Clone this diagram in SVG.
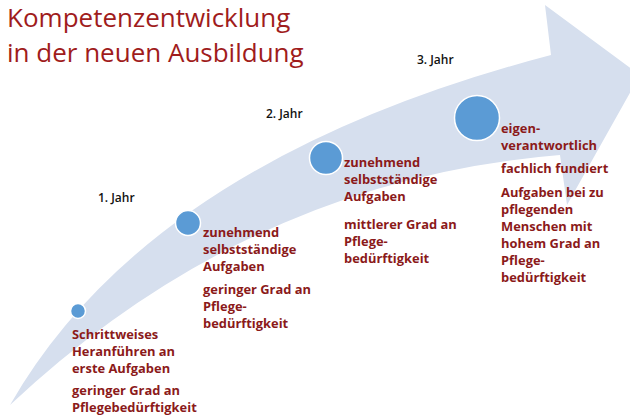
<svg xmlns="http://www.w3.org/2000/svg" width="630" height="420" viewBox="0 0 630 420">
<style>
.t{font-family:"Open Sans","Liberation Sans",sans-serif;font-size:26px;fill:#a01c1c}
.l{font-family:"Open Sans","Liberation Sans",sans-serif;font-size:12.9px;font-weight:bold;fill:#8b1a1a}
.y{font-family:"Open Sans","Liberation Sans",sans-serif;font-size:12px;font-weight:600;fill:#111}
.c{fill:#5b9bd5;stroke:#fff;stroke-width:1.5}
</style>
<rect width="630" height="420" fill="#fff"/>
<g id="arrow"><path d="M10,405 Q150,160 551,55 L545,5 L640,75 L567,205 L560,155 Q250,180 10,405 Z" fill="#d6dfee"/></g>
<g id="title"><text class="t" x="7" y="27">Kompetenzentwicklung</text><text class="t" x="7" y="62">in der neuen Ausbildung</text></g>
<g id="connectors"/>
<g id="n1"><circle class="c" cx="78" cy="311" r="7.5"/><text class="y" x="98" y="202">1. Jahr</text>
<text class="l" x="72"><tspan x="72" y="339">Schrittweises</tspan><tspan x="72" y="356">Heranführen an</tspan><tspan x="72" y="373">erste Aufgaben</tspan><tspan x="72" y="395">geringer Grad an</tspan><tspan x="72" y="412">Pflegebedürftigkeit</tspan></text></g>
<g id="n2"><circle class="c" cx="188" cy="223" r="12.5"/><text class="y" x="266" y="118">2. Jahr</text>
<text class="l"><tspan x="203" y="237">zunehmend</tspan><tspan x="203" y="254">selbstständige</tspan><tspan x="203" y="271">Aufgaben</tspan><tspan x="203" y="294">geringer Grad an</tspan><tspan x="203" y="311">Pflege-</tspan><tspan x="203" y="328">bedürftigkeit</tspan></text></g>
<g id="n3"><circle class="c" cx="326" cy="158" r="16.5"/><text class="y" x="417" y="64">3. Jahr</text>
<text class="l"><tspan x="344" y="167">zunehmend</tspan><tspan x="344" y="184">selbstständige</tspan><tspan x="344" y="201">Aufgaben</tspan><tspan x="344" y="229">mittlerer Grad an</tspan><tspan x="344" y="246">Pflege-</tspan><tspan x="344" y="263">bedürftigkeit</tspan></text></g>
<g id="n4"><circle class="c" cx="477" cy="118" r="22.5"/>
<text class="l"><tspan x="501" y="133">eigen-</tspan><tspan x="501" y="150">verantwortlich</tspan><tspan x="501" y="173">fachlich fundiert</tspan><tspan x="501" y="197">Aufgaben bei zu</tspan><tspan x="501" y="214">pflegenden</tspan><tspan x="501" y="231">Menschen mit</tspan><tspan x="501" y="248">hohem Grad an</tspan><tspan x="501" y="265">Pflege-</tspan><tspan x="501" y="282">bedürftigkeit</tspan></text></g>
</svg>
